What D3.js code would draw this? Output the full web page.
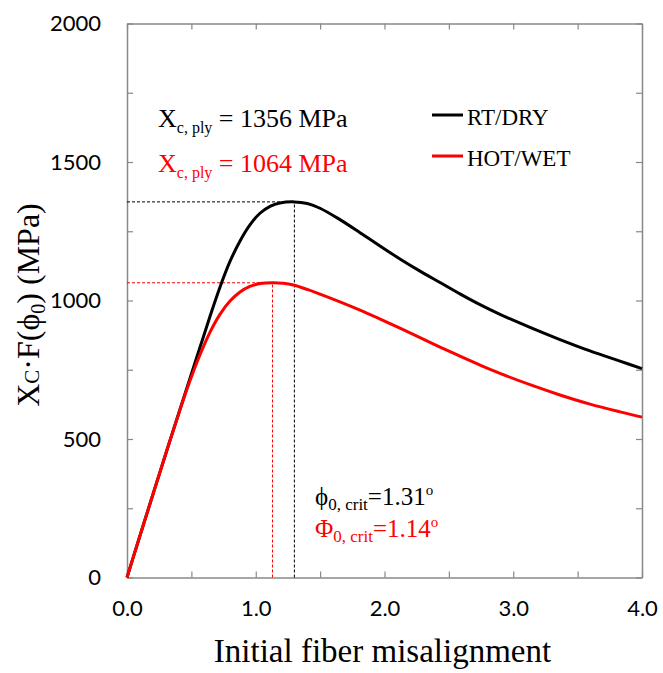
<!DOCTYPE html>
<html>
<head>
<meta charset="utf-8">
<script src="https://cdn.jsdelivr.net/npm/d3@7"></script>
<style>
  body { margin: 0; background: #fff; }
  .tick text { font-family: Lato, "Open Sans", sans-serif; font-size: 22px; fill: #000; }
  .serif { font-family: "Liberation Serif", "DejaVu Serif", serif; }
</style>
</head>
<body>
<div id="chart"></div>
<script>
// values
var xRtDry = [0, 0.1, 0.2, 0.3, 0.4, 0.489, 0.567, 0.645, 0.722, 0.80, 0.878, 0.955, 1.033, 1.111, 1.188, 1.30, 1.40, 1.499, 1.654, 1.81, 1.965, 2.12, 2.276, 2.431, 2.586, 2.742, 2.897, 3.13, 3.363, 3.596, 3.829, 4.0];
var yRtDry = [0, 150, 298, 445, 590, 719, 831, 943, 1048, 1141, 1215, 1273, 1315, 1340, 1352, 1356, 1350, 1333, 1292, 1245, 1197, 1150, 1106, 1065, 1024, 985, 950, 903, 859, 818, 781, 754];
var xHotWet = [0, 0.1, 0.2, 0.3, 0.4, 0.489, 0.567, 0.645, 0.722, 0.80, 0.878, 0.955, 1.033, 1.13, 1.214, 1.292, 1.40, 1.499, 1.654, 1.81, 1.965, 2.12, 2.276, 2.431, 2.586, 2.742, 2.897, 3.13, 3.363, 3.596, 3.829, 4.0];
var yHotWet = [0, 150, 298, 445, 589, 710, 804, 886, 950, 998, 1031, 1051, 1061, 1064, 1062, 1056, 1040, 1023, 995, 965, 933, 900, 866, 832, 799, 767, 737, 696, 659, 626, 598, 579];
var peakX = [1.30, 1.13];
var peakY = [1356, 1064];
var seriesNames = ["RT/DRY", "HOT/WET"];
var seriesColors = ["#000000", "#ff0000"];
var xTicks = [0, 0.5, 1, 1.5, 2, 2.5, 3, 3.5, 4];
var xLabels = [0, 1, 2, 3, 4];
var yTicks = [0, 250, 500, 750, 1000, 1250, 1500, 1750, 2000];
var yLabels = [0, 500, 1000, 1500, 2000];

var W = 663, H = 673;
var pLeft = 127, pRight = 642, pTop = 23.5, pBottom = 577.5;

var svg = d3.select("#chart").append("svg")
    .attr("width", W)
    .attr("height", H);

var x = d3.scaleLinear().domain([0, 4]).range([pLeft, pRight]);
var y = d3.scaleLinear().domain([0, 2000]).range([pBottom, pTop]);

function fmtX(d) { return xLabels.indexOf(d) >= 0 ? d3.format(".1f")(d) : ""; }
function fmtY(d) { return yLabels.indexOf(d) >= 0 ? d : ""; }

// axes, ticks pointing inside
function styleAxis(g) {
    g.selectAll(".domain").attr("stroke", "#888").attr("stroke-width", 1.5).attr("fill", "none");
    g.selectAll(".tick line").attr("stroke", "#888").attr("stroke-width", 1.2);
}
svg.append("g").attr("transform", "translate(0," + pBottom + ")")
    .call(d3.axisBottom(x).tickValues(xTicks).tickFormat(fmtX).tickSize(-6).tickPadding(23).tickSizeOuter(0))
    .call(styleAxis);
svg.append("g").attr("transform", "translate(0," + pTop + ")")
    .call(d3.axisTop(x).tickValues(xTicks).tickFormat("").tickSize(-6).tickSizeOuter(0))
    .call(styleAxis);
svg.append("g").attr("transform", "translate(" + pLeft + ",0)")
    .call(d3.axisLeft(y).tickValues(yTicks).tickFormat(fmtY).tickSize(-6).tickPadding(26).tickSizeOuter(0))
    .call(styleAxis);
svg.append("g").attr("transform", "translate(" + pRight + ",0)")
    .call(d3.axisRight(y).tickValues(yTicks).tickFormat("").tickSize(-6).tickSizeOuter(0))
    .call(styleAxis);
svg.selectAll(".tick text").attr("font-family", null).attr("font-size", null);

// dashed guides to the peaks
for (var i = 0; i < 2; i++) {
    svg.append("line")
        .attr("x1", x(0)).attr("x2", x(peakX[i]))
        .attr("y1", y(peakY[i])).attr("y2", y(peakY[i]))
        .attr("stroke", seriesColors[i]).attr("stroke-width", 1)
        .attr("stroke-dasharray", "3,2");
    svg.append("line")
        .attr("x1", x(peakX[i])).attr("x2", x(peakX[i]))
        .attr("y1", y(0)).attr("y2", y(peakY[i]))
        .attr("stroke", seriesColors[i]).attr("stroke-width", 1)
        .attr("stroke-dasharray", "3,2");
}

// curves
var line = d3.line()
    .x(function (d) { return x(d[0]); })
    .y(function (d) { return y(d[1]); })
    .curve(d3.curveCatmullRom.alpha(0.5));

var series = [d3.zip(xRtDry, yRtDry), d3.zip(xHotWet, yHotWet)];
svg.selectAll("path.curve")
    .data(series)
    .enter().append("path")
    .attr("class", "curve")
    .attr("d", line)
    .attr("fill", "none")
    .attr("stroke", function (d, i) { return seriesColors[i]; })
    .attr("stroke-width", 3);

// legend
var legY = [115, 156];
seriesNames.forEach(function (name, i) {
    svg.append("line")
        .attr("x1", 432).attr("x2", 463)
        .attr("y1", legY[i]).attr("y2", legY[i])
        .attr("stroke", seriesColors[i]).attr("stroke-width", 3);
    svg.append("text").attr("class", "serif")
        .attr("x", 467).attr("y", legY[i] + 10)
        .attr("font-size", 23)
        .attr("fill", "#000")
        .text(name);
});

// X_c,ply annotations
var xcY = [127, 172];
[0, 1].forEach(function (i) {
    var t = svg.append("text").attr("class", "serif")
        .attr("x", 158).attr("y", xcY[i])
        .attr("fill", seriesColors[i])
        .attr("font-size", 26);
    t.append("tspan").text("X");
    t.append("tspan").attr("font-size", 16).attr("dy", 6).text("c, ply");
    t.append("tspan").attr("dy", -6).text(" = " + peakY[i] + " MPa");
});

// phi_0,crit annotations
var phY = [505, 537];
var phSym = ["\u03D5", "\u03A6"];
var phVal = ["1.31", "1.14"];
[0, 1].forEach(function (i) {
    var t = svg.append("text").attr("class", "serif")
        .attr("x", 315).attr("y", phY[i])
        .attr("fill", seriesColors[i])
        .attr("font-size", 25);
    t.append("tspan").text(phSym[i]);
    t.append("tspan").attr("font-size", 17).attr("dy", 5).text("0, crit");
    t.append("tspan").attr("dy", -5).text("=" + phVal[i]);
    t.append("tspan").attr("font-size", 15).attr("dy", -10).text("o");
});

// axis titles
svg.append("text").attr("class", "serif")
    .attr("x", (pLeft + pRight) / 2 - 2).attr("y", 662)
    .attr("text-anchor", "middle")
    .attr("font-size", 33)
    .attr("fill", "#000")
    .text("Initial fiber misalignment");

var yt = svg.append("text").attr("class", "serif")
    .attr("transform", "translate(39,305) rotate(-90)")
    .attr("text-anchor", "middle")
    .attr("font-size", 32)
    .attr("fill", "#000");
yt.append("tspan").text("X");
yt.append("tspan").attr("font-size", 21).text("C");
yt.append("tspan").text("\u00B7F(\u03D5");
yt.append("tspan").attr("font-size", 20).attr("dy", 6).text("0");
yt.append("tspan").attr("dy", -6).text(") (MPa)");
</script>
</body>
</html>
